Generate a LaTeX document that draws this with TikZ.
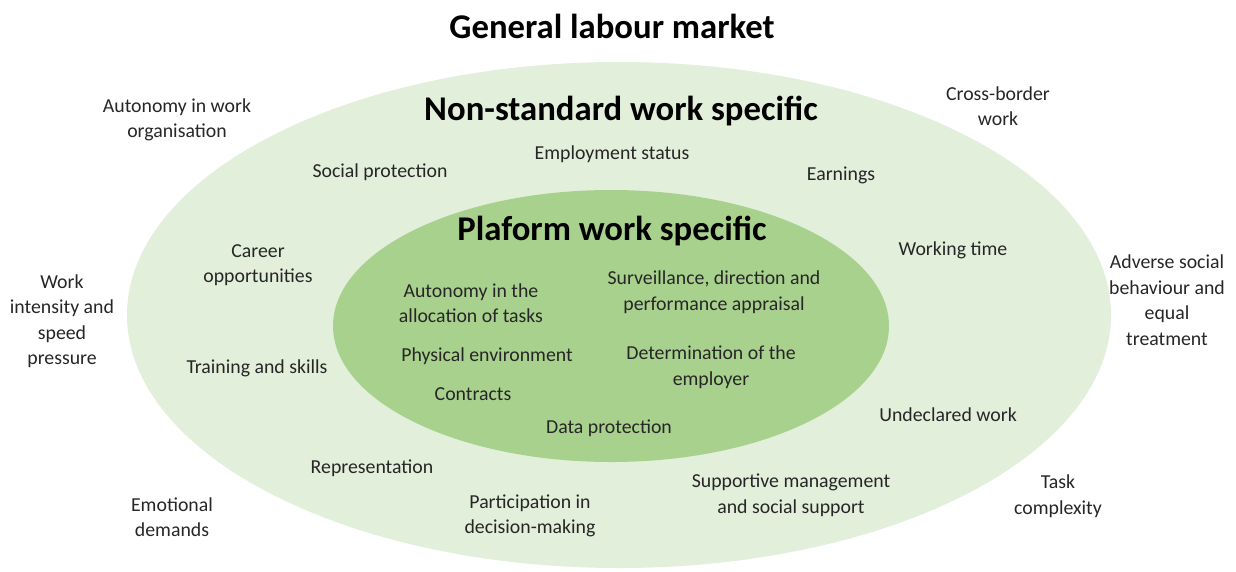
\documentclass[tikz,border=0pt]{standalone}
\usepackage{fontspec}
\setmainfont{Carlito}
\definecolor{outerGreen}{HTML}{E2EFDA}
\definecolor{innerGreen}{HTML}{A9D18E}
\tikzset{
  item/.style={align=center, text=black!85, font=\fontsize{19.8}{25.5}\selectfont, inner sep=0pt, yshift=-2pt},
  heading/.style={align=center, font=\bfseries\fontsize{34.7}{38}\selectfont, inner sep=0pt, yshift=-1pt},
}

\begin{document}
\begin{tikzpicture}[x=1pt, y=-1pt]
      \useasboundingbox (0,0) rectangle (1236,571);
      \fill[outerGreen] (619,315) ellipse [x radius=492, y radius=253];
      \fill[innerGreen] (611,326) ellipse [x radius=278, y radius=136];
      % headings
      \node[heading] (general) at (612,25) {General labour market};
      \node[heading] (nonstd) at (621,110) {Non-standard work specific};
      \node[heading] (platform) at (612,230) {Plaform work specific};
      % general labour market
      \node[item] (autoOrg) at (177,118) {Autonomy in work\\organisation};
      \node[item] (crossBorder) at (998,104) {Cross-border\\work};
      \node[item] (intensity) at (62,319) {Work\\intensity and\\speed\\pressure};
      \node[item] (adverse) at (1167,298) {Adverse social\\behaviour and\\equal\\treatment};
      \node[item] (emotional) at (172,515) {Emotional\\demands};
      \node[item] (taskComp) at (1058,494) {Task\\complexity};
      % non-standard work
      \node[item] (socProt) at (380,170) {Social protection};
      \node[item] (empStatus) at (612,152) {Employment status};
      \node[item] (earnings) at (841,173) {Earnings};
      \node[item] (career) at (258,263) {Career\\opportunities};
      \node[item] (workTime) at (953,248) {Working time};
      \node[item] (training) at (257,366) {Training and skills};
      \node[item] (undeclared) at (948,413) {Undeclared work};
      \node[item] (represent) at (372,466) {Representation};
      \node[item] (particip) at (530,514) {Participation in\\decision-making};
      \node[item] (supportive) at (791,493) {Supportive management\\and social support};
      % platform work
      \node[item] (autoTasks) at (471,301) {Autonomy in the\\allocation of tasks};
      \node[item] (surveil) at (714,290) {Surveillance, direction and\\performance appraisal};
      \node[item] (physEnv) at (487,354) {Physical environment};
      \node[item] (employer) at (711,365) {Determination of the\\employer};
      \node[item] (contracts) at (473,392) {Contracts};
      \node[item] (dataProt) at (609,426) {Data protection};
    \end{tikzpicture}
\end{document}
